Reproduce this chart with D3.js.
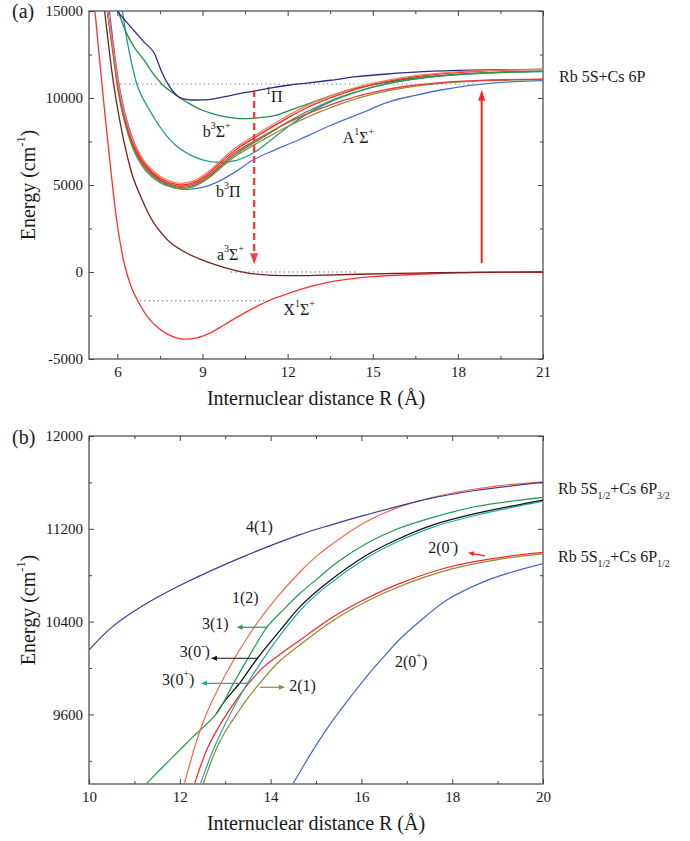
<!DOCTYPE html>
<html>
<head>
<meta charset="utf-8">
<script src="https://cdn.jsdelivr.net/npm/d3@7"></script>
<style>
  body { margin: 0; background: #fff; }
  svg { display: block; font-family: "Liberation Serif", "Times New Roman", serif; }
</style>
</head>
<body>
<svg id="chart" width="690" height="841"></svg>
<script>
// ---------- panel (a): Hund's case (a) curves, R in Å, E in cm-1 ----------
const aXMajor = [6, 9, 12, 15, 18, 21];
const aXMinor = [7.5, 10.5, 13.5, 16.5, 19.5];
const aYMajor = [-5000, 0, 5000, 10000, 15000];
const aYMinor = [-2500, 2500, 7500, 12500];

// X1Σ+
const rX = [5.21, 5.45, 5.74, 6.0, 6.27, 6.5, 6.75, 7.05, 7.39, 7.8, 8.27, 8.8, 9.3, 9.8, 10.3, 10.8, 11.38, 12.0, 12.6, 13.3, 14.2, 15.0, 16.5, 18.0, 19.5, 21];
const eX = [15000, 10900, 6300, 2700, 300, -900, -1750, -2550, -3150, -3600, -3850, -3780, -3480, -3000, -2520, -2080, -1620, -1250, -930, -640, -400, -270, -130, -45, -12, 0];
// a3Σ+
const rA3 = [5.55, 5.7, 5.85, 6.05, 6.3, 6.56, 6.86, 7.1, 7.4, 7.9, 8.45, 9.0, 9.5, 10.0, 10.6, 11.2, 11.9, 13.0, 14.5, 16.5, 18.5, 21];
const eA3 = [15000, 12900, 11000, 9000, 7000, 5400, 4200, 3350, 2550, 1650, 1080, 680, 390, 150, -60, -170, -210, -195, -130, -60, -20, 0];
// b3Π bundle (shared R grid)
const rG = [5.65, 5.85, 6.05, 6.3, 6.6, 7.0, 7.5, 8.0, 8.3, 8.7, 9.2, 9.7, 10.2, 10.8, 11.4, 12.0, 12.6, 13.2, 14.0, 15.0, 16.1, 17.5, 19.0, 21];
const eG1 = [15000, 12900, 10650, 8800, 7350, 6250, 5500, 5150, 5100, 5250, 5760, 6500, 7180, 7800, 8400, 8980, 9500, 9930, 10400, 10850, 11190, 11440, 11585, 11650];
const eG2 = [15000, 12800, 10520, 8680, 7230, 6130, 5400, 5060, 5010, 5150, 5650, 6380, 7060, 7680, 8280, 8860, 9380, 9820, 10300, 10770, 11130, 11400, 11565, 11640];
const eG3 = [15000, 12700, 10400, 8570, 7120, 6020, 5310, 4980, 4930, 5060, 5540, 6250, 6910, 7500, 8060, 8580, 9030, 9420, 9880, 10320, 10660, 10900, 11030, 11085];
const eG4 = [15000, 12600, 10280, 8460, 7010, 5920, 5220, 4900, 4860, 4980, 5450, 6150, 6810, 7420, 8010, 8620, 9150, 9610, 10130, 10630, 11000, 11280, 11455, 11550];
const eG5 = [15000, 12500, 10160, 8350, 6900, 5820, 5140, 4830, 4800, 4910, 5370, 6060, 6700, 7290, 7840, 8360, 8830, 9240, 9740, 10220, 10580, 10850, 10995, 11065];
// A1Σ+
const rA1 = [5.72, 5.9, 6.1, 6.4, 6.7, 7.1, 7.6, 8.1, 8.5, 9.0, 9.5, 10.2, 10.82, 11.5, 12.4, 13.5, 14.5, 15.6, 16.5, 17.4, 18.3, 19.1, 20, 21];
const eA1 = [15000, 12600, 10400, 8350, 7050, 5950, 5180, 4800, 4750, 4860, 5150, 5800, 6480, 6980, 7600, 8420, 9070, 9790, 10150, 10460, 10700, 10845, 10940, 10995];
// teal state (min near 6300)
const rT = [6.18, 6.4, 6.75, 7.3, 7.7, 8.15, 8.6, 9.0, 9.6, 10.2, 10.8, 11.5, 12.1, 12.6, 13.3, 14.4, 15.5, 17.0, 19.0, 21];
const eT = [15000, 12800, 10500, 8850, 7900, 7150, 6700, 6450, 6300, 6420, 6850, 7700, 8450, 9000, 9620, 10330, 10820, 11200, 11430, 11520];
// b3Σ+ (green)
const rB = [6.03, 6.3, 6.62, 7.0, 7.21, 7.6, 8.15, 8.6, 8.97, 9.4, 9.79, 10.2, 10.73, 11.2, 11.67, 12.1, 12.61, 13.2, 14.2, 15.3, 16.5, 18.0, 19.5, 21];
const eB = [15000, 13800, 12857, 12050, 11512, 10750, 10075, 9620, 9310, 9080, 8925, 8830, 8833, 8900, 9050, 9300, 9598, 9950, 10480, 10850, 11150, 11370, 11490, 11550];
// 1Π (navy)
const rP = [6.0, 6.3, 6.62, 6.95, 7.27, 7.42, 7.56, 7.8, 8.0, 8.15, 8.3, 8.5, 8.74, 9.2, 9.79, 10.3, 10.82, 11.32, 12.08, 12.61, 13.5, 14.43, 15.5, 16.78, 18.5, 21];
const eP = [15000, 14400, 13810, 13200, 12660, 12100, 11510, 10750, 10300, 10075, 9960, 9900, 9885, 9910, 10075, 10250, 10400, 10555, 10747, 10845, 11020, 11225, 11380, 11512, 11600, 11650];

// dotted reference levels
const levelE = [10800, 0, -1650];
const levelFrom = [6.1, 10.0, 6.8];
const levelTo = [18.6, 14.5, 11.35];

// ---------- panel (b): Hund's case (c) curves ----------
const bXMajor = [10, 12, 14, 16, 18, 20];
const bXMinor = [11, 13, 15, 17, 19];
const bYMajor = [9600, 10400, 11200, 12000];
const bYMinor = [9200, 10000, 10800, 11600];

const r41 = [10, 10.5, 11.2, 12.1, 13.4, 14.65, 15.3, 16.1, 17.5, 18.5, 20];
const e41 = [10155, 10350, 10540, 10730, 10960, 11150, 11230, 11320, 11460, 11530, 11600];
const r12 = [12.1, 12.5, 13.0, 13.6, 14.1, 14.65, 15.0, 15.4, 16.1, 16.85, 17.9, 19.0, 20];
const e12 = [9000, 9520, 9940, 10330, 10590, 10830, 10960, 11080, 11260, 11390, 11500, 11570, 11605];
const r31 = [11.27, 11.8, 12.3, 12.81, 13.2, 13.6, 13.93, 14.3, 14.65, 15.0, 15.5, 16.12, 16.8, 17.58, 18.5, 20];
const e31 = [9006, 9215, 9410, 9609, 9880, 10150, 10356, 10510, 10644, 10760, 10920, 11075, 11200, 11299, 11390, 11471];
const r30m = [12.81, 13.0, 13.3, 13.71, 14.2, 14.65, 15.2, 16.12, 16.8, 17.58, 18.5, 20];
const e30m = [9609, 9720, 9860, 10084, 10320, 10529, 10720, 10974, 11110, 11233, 11330, 11448];
const r30p = [12.46, 12.7, 13.0, 13.49, 14.0, 14.65, 15.2, 16.12, 16.8, 17.58, 18.5, 20];
const e30p = [9006, 9260, 9520, 9868, 10170, 10495, 10695, 10950, 11090, 11215, 11315, 11438];
const r20m = [12.33, 12.6, 12.9, 13.2, 13.5, 13.85, 14.25, 14.65, 15.0, 15.38, 16.12, 16.85, 17.95, 19.0, 20];
const e20m = [9006, 9300, 9520, 9700, 9860, 10010, 10130, 10241, 10340, 10442, 10601, 10730, 10873, 10950, 10997];
const r21 = [12.52, 12.8, 13.0, 13.29, 13.5, 13.73, 14.2, 14.65, 15.38, 16.12, 16.85, 17.95, 19.0, 20];
const e21 = [9006, 9300, 9450, 9623, 9740, 9855, 10060, 10200, 10410, 10575, 10705, 10850, 10935, 10985];
const r20p = [14.5, 14.9, 15.3, 15.7, 16.1, 16.5, 16.85, 17.4, 17.9, 18.7, 19.3, 20];
const e20p = [9006, 9270, 9510, 9720, 9920, 10100, 10250, 10440, 10590, 10745, 10825, 10900];

// ---------- drawing ----------
const svg = d3.select("#chart");
svg.append("rect").attr("width", 690).attr("height", 841).attr("fill", "#fff");

const left = 89, right = 543;
const pts = (r, e) => r.map((v, i) => [v, e[i]]);

// text with superscript / subscript parts: ["text", "sup"|"sub"]
function rich(g, x, y, parts, size, anchor) {
  const t = g.append("text").attr("x", x).attr("y", y)
    .attr("font-size", size).attr("fill", "#1a1a1a")
    .attr("text-anchor", anchor || "start");
  let shift = 0;
  parts.forEach(p => {
    const str = Array.isArray(p) ? p[0] : p;
    const kind = Array.isArray(p) ? p[1] : null;
    const target = kind === "sup" ? -0.5 * size : kind === "sub" ? 0.3 * size : 0;
    t.append("tspan").attr("dy", target - shift)
      .attr("font-size", kind ? size * 0.62 : size).text(str);
    shift = target;
  });
  return t;
}

function makePanel(id, xDom, yDom, top, bottom, xMaj, xMin, yMaj, yMin) {
  const x = d3.scaleLinear().domain(xDom).range([left, right]);
  const y = d3.scaleLinear().domain(yDom).range([bottom, top]);
  const g = svg.append("g");

  g.append("clipPath").attr("id", id)
    .append("rect").attr("x", left).attr("y", top)
    .attr("width", right - left).attr("height", bottom - top);

  const fmt = d => String(d);
  const axes = [
    [d3.axisBottom(x).tickValues(xMaj).tickFormat(fmt).tickSizeInner(-5).tickPadding(7.5), `translate(0,${bottom})`],
    [d3.axisBottom(x).tickValues(xMin).tickFormat("").tickSizeInner(-3), `translate(0,${bottom})`],
    [d3.axisTop(x).tickValues(xMaj).tickFormat("").tickSizeInner(-5), `translate(0,${top})`],
    [d3.axisTop(x).tickValues(xMin).tickFormat("").tickSizeInner(-3), `translate(0,${top})`],
    [d3.axisLeft(y).tickValues(yMaj).tickFormat(fmt).tickSizeInner(-5).tickPadding(6), `translate(${left},0)`],
    [d3.axisLeft(y).tickValues(yMin).tickFormat("").tickSizeInner(-3), `translate(${left},0)`],
    [d3.axisRight(y).tickValues(yMaj).tickFormat("").tickSizeInner(-5), `translate(${right},0)`],
    [d3.axisRight(y).tickValues(yMin).tickFormat("").tickSizeInner(-3), `translate(${right},0)`]
  ];
  axes.forEach(([ax, tr]) => {
    const a = g.append("g").attr("transform", tr).call(ax.tickSizeOuter(0));
    a.select(".domain").remove();
    a.selectAll("line").attr("stroke", "#444").attr("stroke-width", 1);
    a.selectAll("text").attr("font-size", 15).attr("fill", "#1a1a1a")
      .attr("font-family", "Liberation Serif, serif");
  });

  g.append("rect").attr("x", left).attr("y", top)
    .attr("width", right - left).attr("height", bottom - top)
    .attr("fill", "none").attr("stroke", "#444").attr("stroke-width", 1.2);

  const plot = g.append("g").attr("clip-path", `url(#${id})`);

  // axis titles
  rich(g, (left + right) / 2, bottom + 46, ["Internuclear distance R (Å)"], 20, "middle");
  const yt = rich(g, 0, 0, ["Energy (cm", ["-1", "sup"], ")"], 20, "middle");
  yt.attr("transform", `translate(35,${(top + bottom) / 2}) rotate(-90)`);

  return { x, y, g, plot };
}

function curve(p, r, e, color, width) {
  const line = d3.line().x(d => p.x(d[0])).y(d => p.y(d[1]))
    .curve(d3.curveCatmullRom.alpha(0.5));
  p.plot.append("path").datum(pts(r, e))
    .attr("d", line).attr("fill", "none")
    .attr("stroke", color).attr("stroke-width", width || 1.3)
    .attr("stroke-linejoin", "round");
}

function arrow(g, x1, y1, x2, y2, color, width, headLen, headW, dash) {
  const dx = x2 - x1, dy = y2 - y1, len = Math.hypot(dx, dy);
  const ux = dx / len, uy = dy / len;
  const bx = x2 - ux * headLen, by = y2 - uy * headLen;
  g.append("line").attr("x1", x1).attr("y1", y1).attr("x2", bx).attr("y2", by)
    .attr("stroke", color).attr("stroke-width", width)
    .attr("stroke-dasharray", dash || null);
  g.append("path")
    .attr("d", `M${x2},${y2}L${bx - uy * headW / 2},${by + ux * headW / 2}L${bx + uy * headW / 2},${by - ux * headW / 2}Z`)
    .attr("fill", color);
}

// ----- panel (a) -----
const pa = makePanel("clipA", [5, 21], [-5000, 15000], 11, 359, aXMajor, aXMinor, aYMajor, aYMinor);

const levelColor = ["#7f8fd0", "#555", "#555"];
levelE.forEach((e, i) => {
  pa.plot.append("line")
    .attr("x1", pa.x(levelFrom[i])).attr("x2", pa.x(levelTo[i]))
    .attr("y1", pa.y(e)).attr("y2", pa.y(e))
    .attr("stroke", levelColor[i]).attr("stroke-width", 1.1)
    .attr("stroke-dasharray", "1.2,3.2");
});

curve(pa, rX, eX, "#ff3030");
curve(pa, rA3, eA3, "#7a1e1e");
curve(pa, rT, eT, "#1f9c8c");
curve(pa, rB, eB, "#1e8c4a");
curve(pa, rP, eP, "#2d2d88");
curve(pa, rA1, eA1, "#4b6fd6");
curve(pa, rG, eG5, "#8e8e32");
curve(pa, rG, eG4, "#2e9a4e");
curve(pa, rG, eG3, "#e83a3a");
curve(pa, rG, eG2, "#ff2525");
curve(pa, rG, eG1, "#ff7a5c");

// transition arrows
arrow(pa.g, pa.x(10.82), pa.y(10460), pa.x(10.82), pa.y(446), "#ff3b3b", 2.4, 11, 8, "7,4");
arrow(pa.g, pa.x(18.84), pa.y(500), pa.x(18.84), pa.y(10480), "#ff2020", 2, 11, 7);

// state labels
rich(pa.g, pa.x(11.24), pa.y(9770), [["1", "sup"], "Π"], 16);
rich(pa.g, pa.x(9.01), pa.y(7759), ["b", ["3", "sup"], "Σ", ["+", "sup"]], 16);
rich(pa.g, pa.x(13.94), pa.y(7414), ["A", ["1", "sup"], "Σ", ["+", "sup"]], 16);
rich(pa.g, pa.x(9.48), pa.y(4311), ["b", ["3", "sup"], "Π"], 16);
rich(pa.g, pa.x(9.51), pa.y(690), ["a", ["3", "sup"], "Σ", ["+", "sup"]], 16);
rich(pa.g, pa.x(11.85), pa.y(-2471), ["X", ["1", "sup"], "Σ", ["+", "sup"]], 16);
rich(pa.g, 559, pa.y(10920), ["Rb 5S+Cs 6P"], 16);
rich(pa.g, 12, 18, ["(a)"], 20);

// ----- panel (b) -----
const pb = makePanel("clipB", [10, 20], [9000, 12000], 436, 784, bXMajor, bXMinor, bYMajor, bYMinor);

curve(pb, r20p, e20p, "#4766cc", 1.2);
curve(pb, r21, e21, "#8b8b30", 1.2);
curve(pb, r20m, e20m, "#ff2222", 1.2);
curve(pb, r30p, e30p, "#22a8a6", 1.2);
curve(pb, r30m, e30m, "#111111", 1.3);
curve(pb, r31, e31, "#1f9a4f", 1.2);
curve(pb, r12, e12, "#ff6347", 1.2);
curve(pb, r41, e41, "#3b3b98", 1.2);

// pointer arrows
arrow(pb.g, pb.x(13.914), pb.y(10351), pb.x(13.251), pb.y(10351), "#1f9a4f", 1.2, 6, 5);
arrow(pb.g, pb.x(13.692), pb.y(10084), pb.x(12.687), pb.y(10084), "#111", 1.2, 6, 5);
arrow(pb.g, pb.x(13.493), pb.y(9868), pb.x(12.467), pb.y(9868), "#22a8a6", 1.2, 6, 5);
arrow(pb.g, pb.x(13.767), pb.y(9834), pb.x(14.317), pb.y(9834), "#8b8b30", 1.2, 6, 5);
arrow(pb.g, pb.x(18.722), pb.y(10966), pb.x(18.348), pb.y(10994), "#ff2222", 1.2, 6, 5);

rich(pb.g, pb.x(13.46), pb.y(11172), ["4(1)"], 16);
rich(pb.g, pb.x(13.15), pb.y(10560), ["1(2)"], 16);
rich(pb.g, pb.x(12.49), pb.y(10336), ["3(1)"], 16);
rich(pb.g, pb.x(12.0), pb.y(10095), ["3(0", ["-", "sup"], ")"], 16);
rich(pb.g, pb.x(11.61), pb.y(9853), ["3(0", ["+", "sup"], ")"], 16);
rich(pb.g, pb.x(14.41), pb.y(9802), ["2(1)"], 16);
rich(pb.g, pb.x(17.47), pb.y(10991), ["2(0", ["-", "sup"], ")"], 16);
rich(pb.g, pb.x(16.74), pb.y(10009), ["2(0", ["+", "sup"], ")"], 16);
rich(pb.g, 558, pb.y(11500), ["Rb 5S", ["1/2", "sub"], "+Cs 6P", ["3/2", "sub"]], 16);
rich(pb.g, 558, pb.y(10914), ["Rb 5S", ["1/2", "sub"], "+Cs 6P", ["1/2", "sub"]], 16);
rich(pb.g, 12, 444, ["(b)"], 20);
</script>
</body>
</html>
